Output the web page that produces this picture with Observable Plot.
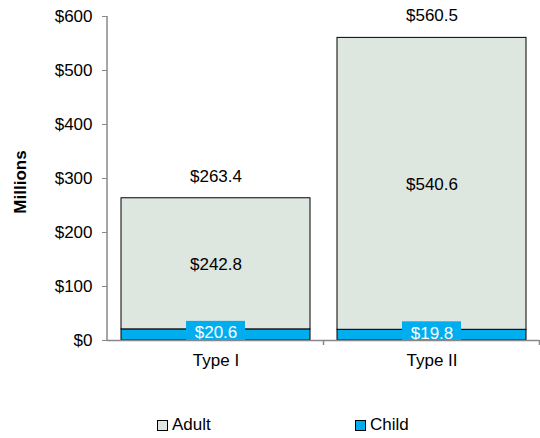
<!DOCTYPE html>
<html>
<head>
<meta charset="utf-8">
<script src="https://cdn.jsdelivr.net/npm/d3@7"></script>
<script src="https://cdn.jsdelivr.net/npm/@observablehq/plot@0.6"></script>
<style>
  html, body { margin: 0; padding: 0; background: #fff; }
  body { width: 540px; height: 438px; font-family: "Liberation Sans", Arial, sans-serif; }
  #legend { display: flex; position: relative; height: 30px; margin-top: 40px; font-size: 17px; color: #000; }
  .item { position: absolute; display: flex; align-items: center; }
  .sw { width: 9px; height: 9px; border: 1px solid #000; margin-right: 4px; }
</style>
</head>
<body>
<div id="chart"></div>
<div id="legend"></div>
<script>
const categories = ["Type I", "Type II"];
const seriesNames = ["Child", "Adult"];
const childValues = [20.6, 19.8];
const adultValues = [242.8, 540.6];
const totalValues = [263.4, 560.5];
const yTicks = [0, 100, 200, 300, 400, 500, 600];
const seriesColors = ["#00AEEF", "#DDE6DF"];

const rows = [];
categories.forEach((c, i) => {
  rows.push({cat: c, series: "Child", value: childValues[i]});
  rows.push({cat: c, series: "Adult", value: adultValues[i]});
});
const childRows = categories.map((c, i) => ({cat: c, value: childValues[i]}));
const totalRows = categories.map((c, i) => ({cat: c, total: totalValues[i]}));
const fmt = v => "$" + v.toFixed(1);

const chart = Plot.plot({
  width: 540,
  height: 375,
  marginTop: 16,
  marginBottom: 35,
  marginLeft: 107,
  marginRight: 1,
  style: {fontFamily: "'Liberation Sans', Arial, sans-serif", fontSize: "17px", color: "#000", background: "#fff"},
  x: {domain: categories, paddingInner: 0.125, paddingOuter: 0.0625, label: null, tickSize: 0, tickPadding: 13},
  y: {domain: [0, 600], ticks: yTicks, tickFormat: d => "$" + d, tickSize: 5, tickPadding: 10, label: null},
  color: {domain: seriesNames, range: seriesColors},
  marks: [
    Plot.barY(rows, {x: "cat", y: "value", fill: "series", stroke: "#000", strokeWidth: 1, order: seriesNames}),
    Plot.text(rows, Plot.stackY({x: "cat", y: "value", z: "series", order: seriesNames,
      text: d => d.series === "Adult" ? fmt(d.value) : null, fill: "#000", fontSize: 17, dy: 1})),
    Plot.barY(childRows, {x: "cat", y: "value", fill: "#00AEEF", insetLeft: 65, insetRight: 65, insetTop: -8}),
    Plot.text(childRows, {x: "cat", y: d => d.value / 2, text: d => fmt(d.value), fill: "#fff", fontSize: 17, dy: -2}),
    Plot.text(totalRows, {x: "cat", y: "total", text: d => fmt(d.total), fill: "#000", fontSize: 17, dy: -22}),
    Plot.ruleY([0], {stroke: "#888", strokeWidth: 1.5})
  ]
});

document.getElementById("chart").appendChild(chart);

// axis line, boundary ticks, y label
const svg = d3.select(chart);
const ys = chart.scale("y");
const xs = chart.scale("x");
const [yb, yt] = ys.range;
svg.selectAll("[aria-label='y-axis tick'] path, [aria-label='y-axis tick']").attr("stroke", "#888");
svg.append("line").attr("x1", 107).attr("x2", 107).attr("y1", yt).attr("y2", yb)
  .attr("stroke", "#888").attr("stroke-width", 1.5);
const step = xs.step !== undefined ? xs.step : (xs.bandwidth / (1 - 0.125));
categories.forEach(c => {
  const xb = xs.apply(c) + xs.bandwidth + step * 0.0625;
  svg.append("line").attr("x1", xb).attr("x2", xb).attr("y1", yb).attr("y2", yb + 5)
    .attr("stroke", "#888").attr("stroke-width", 1.5);
});
svg.append("text").attr("transform", `translate(26,${(yb + yt) / 2 + 4}) rotate(-90)`)
  .attr("text-anchor", "middle").attr("font-weight", "bold").attr("font-size", 17)
  .attr("fill", "#000").text("Millions");

// legend
const legend = document.getElementById("legend");
const legendX = {Adult: 157, Child: 355};
["Adult", "Child"].forEach(s => {
  const it = document.createElement("div");
  it.className = "item";
  it.style.left = legendX[s] + "px";
  const sw = document.createElement("div");
  sw.className = "sw";
  sw.style.background = seriesColors[seriesNames.indexOf(s)];
  const lab = document.createElement("span");
  lab.textContent = s;
  it.appendChild(sw); it.appendChild(lab);
  legend.appendChild(it);
});
</script>
</body>
</html>
